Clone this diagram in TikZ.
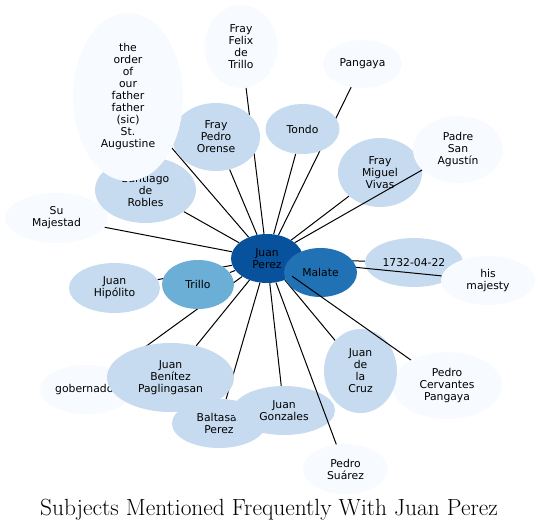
\documentclass[tikz,border=0pt]{standalone}
\usepackage{fontspec}
\newfontfamily\labelfont{DejaVu Sans}
\usetikzlibrary{shapes.geometric}
\definecolor{darkest}{HTML}{08519C}
\definecolor{dark}{HTML}{2171B5}
\definecolor{medium}{HTML}{6BAED6}
\definecolor{light}{HTML}{C6DBEF}
\definecolor{lightest}{HTML}{F7FBFF}
\pgfdeclarelayer{background}
\pgfsetlayers{background,main}
\begin{document}
\begin{tikzpicture}[x=1pt, y=-1pt,
  bubble/.style={ellipse, inner sep=0pt, align=center,
    font={\labelfont\fontsize{10.8}{12}\selectfont}},
  link/.style={line width=1pt}]
\useasboundingbox (0,0) rectangle (539,530);
\node[bubble, fill=lightest, minimum width=103, minimum height=50] (majestad) at (56.5,218) {Su\\Majestad};
\node[bubble, fill=light, minimum width=101, minimum height=66] (robles) at (145.5,190) {Santiago\\de\\Robles};
\node[bubble, fill=light, minimum width=88, minimum height=68] (orense) at (216,137) {Fray\\Pedro\\Orense};
\node[bubble, fill=lightest, minimum width=110, minimum height=168] (order) at (128,97) {the\\order\\of\\our\\father\\father\\(sic)\\St.\\Augustine};
\node[bubble, fill=lightest, minimum width=73, minimum height=83] (felix) at (241,46.5) {Fray\\Felix\\de\\Trillo};
\node[bubble, fill=lightest, minimum width=79, minimum height=48] (pangaya) at (362.5,64) {Pangaya};
\node[bubble, fill=light, minimum width=74, minimum height=50] (tondo) at (302.5,129) {Tondo};
\node[bubble, fill=light, minimum width=84, minimum height=69] (vivas) at (380,172.5) {Fray\\Miguel\\Vivas};
\node[bubble, fill=lightest, minimum width=90, minimum height=67] (agustin) at (458,149.5) {Padre\\San\\Agustín};
\node[bubble, fill=light, minimum width=91, minimum height=50] (hipolito) at (114.5,288) {Juan\\Hipólito};
\node[bubble, fill=medium, minimum width=72, minimum height=49] (trillo) at (198,284.5) {Trillo};
\node[bubble, fill=lightest, minimum width=93, minimum height=49] (gobernador) at (86.5,389.5) {gobernador};
\node[bubble, fill=light, minimum width=127, minimum height=69] (benitez) at (170.5,377.5) {Juan\\Benítez\\Paglingasan};
\node[bubble, fill=light, minimum width=94, minimum height=49] (baltasar) at (219,423.5) {Baltasar\\Perez};
\node[bubble, fill=light, minimum width=102, minimum height=49] (gonzales) at (284,410.5) {Juan\\Gonzales};
\node[bubble, fill=lightest, minimum width=85, minimum height=50] (suarez) at (345.5,469) {Pedro\\Suárez};
\node[bubble, fill=lightest, minimum width=110, minimum height=67] (cervantes) at (447,385.5) {Pedro\\Cervantes\\Pangaya};
\node[bubble, fill=light, minimum width=73, minimum height=84] (cruz) at (360.5,371) {Juan\\de\\la\\Cruz};
\node[bubble, fill=light, minimum width=98, minimum height=49] (fecha) at (414,262.5) {1732-04-22};
\node[bubble, fill=lightest, minimum width=94, minimum height=49] (majesty) at (488,280.5) {his\\majesty};
\node[bubble, fill=darkest, minimum width=72, minimum height=49] (perez) at (267,258.5) {Juan\\Perez};
\begin{pgfonlayer}{background}
\foreach \n in {majestad,robles,orense,order,felix,pangaya,tondo,vivas,hipolito,trillo,gobernador,benitez,baltasar,gonzales,cruz,fecha}
  \draw[link] (perez) -- (\n);
\end{pgfonlayer}
\foreach \n in {agustin,suarez,majesty}
  \draw[link] (perez) -- (\n);
\node[bubble, fill=dark, minimum width=73, minimum height=49] (malate) at (320.5,272.5) {Malate};
\draw[link] (perez) -- (cervantes);
\node[anchor=base, font={\fontsize{23.4}{27}\selectfont}] (title) at (269,515) {Subjects Mentioned Frequently With Juan Perez};
\end{tikzpicture}
\end{document}
